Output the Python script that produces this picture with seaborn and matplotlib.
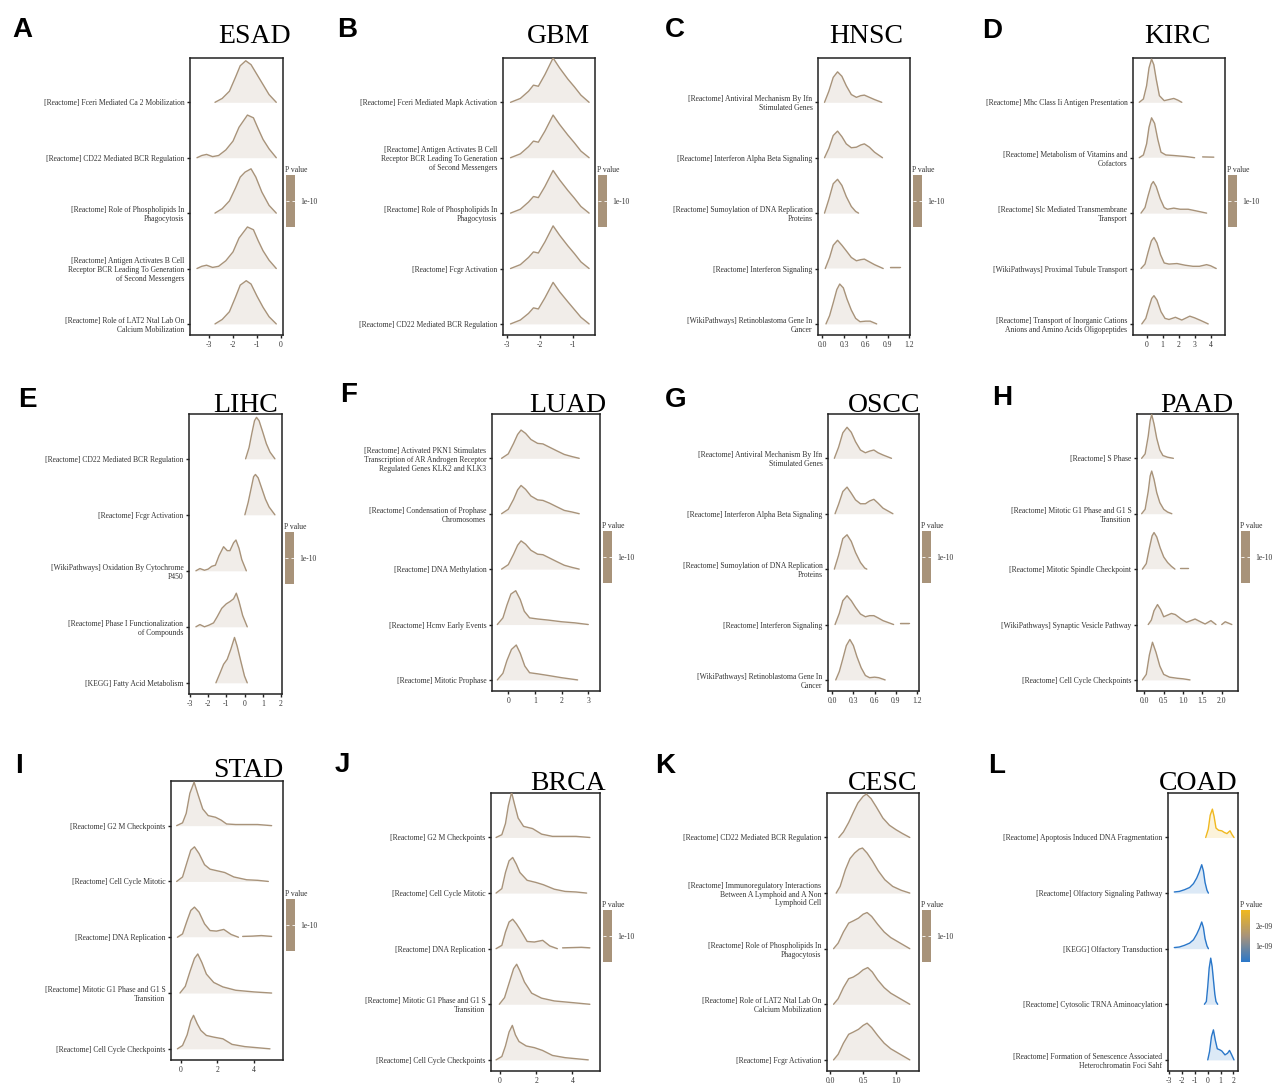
import numpy as np
import matplotlib
matplotlib.use("Agg")
import matplotlib.pyplot as plt
import seaborn as sns
from matplotlib.colors import LinearSegmentedColormap, Normalize
from matplotlib.cm import ScalarMappable

nan = float("nan")

# ---------------- data ----------------
# heights are in units of the ridge spacing, ridges listed top -> bottom

# A  ESAD
esad_terms = ["[Reactome] Fceri Mediated Ca 2 Mobilization",
              "[Reactome] CD22 Mediated BCR Regulation",
              "[Reactome] Role of Phospholipids In\nPhagocytosis",
              "[Reactome] Antigen Activates B Cell\nReceptor BCR Leading To Generation\nof Second Messengers",
              "[Reactome] Role of LAT2 Ntal Lab On\nCalcium Mobilization"]
esad_x = [[-2.75, -2.45, -2.15, -1.9, -1.7, -1.47, -1.25, -1.0, -0.75, -0.5, -0.2],
          [-3.5, -3.3, -3.1, -2.85, -2.6, -2.3, -2.0, -1.75, -1.4, -1.15, -0.95, -0.75, -0.5, -0.2],
          [-2.75, -2.45, -2.15, -1.9, -1.7, -1.5, -1.25, -1.05, -0.8, -0.5, -0.2],
          [-3.5, -3.3, -3.1, -2.85, -2.6, -2.3, -2.0, -1.75, -1.4, -1.15, -0.95, -0.75, -0.5, -0.2],
          [-2.75, -2.45, -2.15, -1.9, -1.7, -1.45, -1.25, -1.0, -0.75, -0.5, -0.2]]
esad_h = [[0.0, 0.07, 0.2, 0.45, 0.66, 0.75, 0.68, 0.5, 0.32, 0.14, 0.0],
          [0.0, 0.04, 0.06, 0.02, 0.04, 0.14, 0.3, 0.55, 0.77, 0.72, 0.52, 0.33, 0.16, 0.0],
          [0.0, 0.08, 0.22, 0.45, 0.65, 0.74, 0.8, 0.65, 0.38, 0.14, 0.0],
          [0.0, 0.04, 0.06, 0.02, 0.04, 0.14, 0.3, 0.55, 0.75, 0.7, 0.5, 0.32, 0.15, 0.0],
          [0.0, 0.08, 0.22, 0.48, 0.7, 0.78, 0.72, 0.5, 0.3, 0.13, 0.0]]
esad_p = [1e-10, 1e-10, 1e-10, 1e-10, 1e-10]

# B  GBM
gbm_terms = ["[Reactome] Fceri Mediated Mapk Activation",
             "[Reactome] Antigen Activates B Cell\nReceptor BCR Leading To Generation\nof Second Messengers",
             "[Reactome] Role of Phospholipids In\nPhagocytosis",
             "[Reactome] Fcgr Activation",
             "[Reactome] CD22 Mediated BCR Regulation"]
gbm_x = [[-2.9, -2.6, -2.35, -2.2, -2.05, -1.85, -1.6, -1.4, -1.15, -0.95, -0.75, -0.5],
         [-2.9, -2.6, -2.35, -2.2, -2.05, -1.85, -1.6, -1.4, -1.15, -0.95, -0.75, -0.5],
         [-2.9, -2.6, -2.35, -2.2, -2.05, -1.85, -1.6, -1.4, -1.15, -0.95, -0.75, -0.5],
         [-2.9, -2.6, -2.35, -2.2, -2.05, -1.85, -1.6, -1.4, -1.15, -0.95, -0.75, -0.5],
         [-2.9, -2.6, -2.35, -2.2, -2.05, -1.85, -1.6, -1.4, -1.15, -0.95, -0.75, -0.5]]
gbm_h = [[0.0, 0.07, 0.2, 0.31, 0.29, 0.5, 0.8, 0.62, 0.42, 0.28, 0.13, 0.0],
         [0.0, 0.07, 0.2, 0.3, 0.28, 0.48, 0.77, 0.6, 0.41, 0.27, 0.12, 0.0],
         [0.0, 0.07, 0.2, 0.3, 0.28, 0.48, 0.77, 0.6, 0.41, 0.27, 0.12, 0.0],
         [0.0, 0.07, 0.2, 0.3, 0.28, 0.48, 0.77, 0.6, 0.41, 0.27, 0.12, 0.0],
         [0.0, 0.07, 0.19, 0.29, 0.27, 0.47, 0.75, 0.58, 0.4, 0.26, 0.12, 0.0]]
gbm_p = [1e-10, 1e-10, 1e-10, 1e-10, 1e-10]

# C  HNSC
hnsc_terms = ["[Reactome] Antiviral Mechanism By Ifn\nStimulated Genes",
              "[Reactome] Interferon Alpha Beta Signaling",
              "[Reactome] Sumoylation of DNA Replication\nProteins",
              "[Reactome] Interferon Signaling",
              "[WikiPathways] Retinoblastoma Gene In\nCancer"]
hnsc_x = [[0.03, 0.09, 0.15, 0.21, 0.27, 0.33, 0.4, 0.47, 0.53, 0.58, 0.65, 0.72, 0.82],
          [0.03, 0.09, 0.15, 0.21, 0.27, 0.33, 0.4, 0.47, 0.53, 0.58, 0.65, 0.72, 0.83],
          [0.03, 0.09, 0.15, 0.21, 0.27, 0.33, 0.4, 0.46, 0.5],
          [0.04, 0.1, 0.15, 0.21, 0.27, 0.33, 0.4, 0.47, 0.53, 0.58, 0.65, 0.72, 0.84, nan, 0.94, 1.07],
          [0.05, 0.1, 0.15, 0.2, 0.24, 0.29, 0.34, 0.4, 0.46, 0.52, 0.6, 0.66, 0.75]]
hnsc_h = [[0.0, 0.2, 0.45, 0.55, 0.47, 0.3, 0.14, 0.09, 0.12, 0.13, 0.09, 0.05, 0.0],
          [0.0, 0.17, 0.4, 0.48, 0.38, 0.25, 0.18, 0.19, 0.23, 0.25, 0.19, 0.1, 0.0],
          [0.0, 0.25, 0.53, 0.61, 0.5, 0.3, 0.12, 0.03, 0.0],
          [0.0, 0.2, 0.42, 0.51, 0.42, 0.32, 0.2, 0.14, 0.16, 0.17, 0.12, 0.07, 0.0, nan, 0.02, 0.02],
          [0.0, 0.15, 0.38, 0.62, 0.72, 0.65, 0.45, 0.25, 0.1, 0.04, 0.05, 0.05, 0.0]]
hnsc_p = [1e-10, 1e-10, 1e-10, 1e-10, 1e-10]

# D  KIRC
kirc_terms = ["[Reactome] Mhc Class Ii Antigen Presentation",
              "[Reactome] Metabolism of Vitamins and\nCofactors",
              "[Reactome] Slc Mediated Transmembrane\nTransport",
              "[WikiPathways] Proximal Tubule Transport",
              "[Reactome] Transport of Inorganic Cations\nAnions and Amino Acids Oligopeptides"]
kirc_x = [[-0.46, -0.2, 0.0, 0.15, 0.31, 0.45, 0.6, 0.8, 1.1, 1.4, 1.7, 1.95, 2.2],
          [-0.46, -0.2, 0.0, 0.15, 0.31, 0.5, 0.7, 0.9, 1.2, 1.7, 2.5, 3.0, nan, 3.5, 4.2],
          [-0.35, -0.1, 0.1, 0.3, 0.42, 0.6, 0.85, 1.1, 1.3, 1.7, 2.1, 2.6, 3.1, 3.75],
          [-0.35, -0.1, 0.1, 0.3, 0.46, 0.65, 0.87, 1.1, 1.4, 1.9, 2.4, 2.9, 3.3, 3.75, 4.0, 4.35],
          [-0.3, -0.05, 0.15, 0.32, 0.46, 0.65, 0.9, 1.15, 1.4, 1.8, 2.2, 2.7, 3.0, 3.4, 3.85]]
kirc_h = [[0.0, 0.06, 0.3, 0.62, 0.78, 0.68, 0.42, 0.12, 0.03, 0.05, 0.07, 0.04, 0.0],
          [0.0, 0.05, 0.25, 0.55, 0.72, 0.62, 0.33, 0.1, 0.05, 0.04, 0.02, 0.0, nan, 0.015, 0.01],
          [0.0, 0.1, 0.32, 0.52, 0.57, 0.48, 0.26, 0.1, 0.07, 0.09, 0.07, 0.07, 0.04, 0.0],
          [0.0, 0.08, 0.3, 0.5, 0.56, 0.46, 0.25, 0.1, 0.08, 0.09, 0.06, 0.04, 0.04, 0.07, 0.05, 0.0],
          [0.0, 0.1, 0.3, 0.46, 0.51, 0.43, 0.22, 0.1, 0.08, 0.12, 0.07, 0.14, 0.11, 0.06, 0.0]]
kirc_p = [1e-10, 1e-10, 1e-10, 1e-10, 1e-10]

# E  LIHC
lihc_terms = ["[Reactome] CD22 Mediated BCR Regulation",
              "[Reactome] Fcgr Activation",
              "[WikiPathways] Oxidation By Cytochrome\nP450",
              "[Reactome] Phase I Functionalization\nof Compounds",
              "[KEGG] Fatty Acid Metabolism"]
lihc_x = [[0.06, 0.25, 0.4, 0.55, 0.66, 0.8, 1.0, 1.2, 1.4, 1.67],
          [0.02, 0.2, 0.35, 0.5, 0.6, 0.75, 0.95, 1.15, 1.35, 1.67],
          [-2.67, -2.45, -2.2, -2.0, -1.8, -1.6, -1.4, -1.15, -0.95, -0.8, -0.6, -0.47, -0.3, -0.15, 0.1],
          [-2.67, -2.45, -2.2, -1.95, -1.7, -1.5, -1.25, -1.0, -0.8, -0.6, -0.45, -0.3, -0.1, 0.15],
          [-1.57, -1.35, -1.15, -0.95, -0.75, -0.55, -0.4, -0.2, 0.0, 0.15]]
lihc_h = [[0.0, 0.2, 0.45, 0.68, 0.74, 0.68, 0.48, 0.27, 0.12, 0.0],
          [0.0, 0.22, 0.45, 0.68, 0.72, 0.66, 0.47, 0.28, 0.14, 0.0],
          [0.0, 0.04, 0.01, 0.03, 0.08, 0.1, 0.27, 0.43, 0.36, 0.36, 0.5, 0.55, 0.4, 0.2, 0.0],
          [0.0, 0.04, 0.0, 0.03, 0.07, 0.18, 0.33, 0.41, 0.45, 0.5, 0.6, 0.45, 0.2, 0.0],
          [0.0, 0.17, 0.33, 0.42, 0.6, 0.81, 0.65, 0.38, 0.12, 0.0]]
lihc_p = [1e-10, 1e-10, 1e-10, 1e-10, 1e-10]

# F  LUAD
luad_terms = ["[Reactome] Activated PKN1 Stimulates\nTranscription of AR Androgen Receptor\nRegulated Genes KLK2 and KLK3",
              "[Reactome] Condensation of Prophase\nChromosomes",
              "[Reactome] DNA Methylation",
              "[Reactome] Hcmv Early Events",
              "[Reactome] Mitotic Prophase"]
luad_x = [[-0.25, 0.0, 0.2, 0.35, 0.48, 0.65, 0.85, 1.1, 1.3, 1.55, 1.8, 2.1, 2.4, 2.66],
          [-0.25, 0.0, 0.2, 0.35, 0.48, 0.65, 0.85, 1.1, 1.3, 1.55, 1.8, 2.1, 2.4, 2.66],
          [-0.25, 0.0, 0.2, 0.35, 0.48, 0.65, 0.85, 1.1, 1.3, 1.55, 1.8, 2.1, 2.4, 2.66],
          [-0.41, -0.2, -0.05, 0.1, 0.28, 0.45, 0.6, 0.8, 1.1, 1.5, 2.0, 2.5, 3.0],
          [-0.41, -0.2, -0.05, 0.12, 0.3, 0.45, 0.62, 0.8, 1.1, 1.5, 2.0, 2.3, 2.6]]
luad_h = [[0.0, 0.08, 0.27, 0.43, 0.51, 0.45, 0.34, 0.27, 0.26, 0.2, 0.14, 0.07, 0.03, 0.0],
          [0.0, 0.08, 0.26, 0.43, 0.51, 0.44, 0.32, 0.25, 0.24, 0.19, 0.13, 0.06, 0.03, 0.0],
          [0.0, 0.08, 0.27, 0.43, 0.51, 0.45, 0.34, 0.27, 0.26, 0.2, 0.14, 0.07, 0.03, 0.0],
          [0.0, 0.12, 0.35, 0.55, 0.61, 0.45, 0.24, 0.12, 0.1, 0.08, 0.05, 0.03, 0.0],
          [0.0, 0.12, 0.35, 0.55, 0.63, 0.48, 0.25, 0.13, 0.11, 0.08, 0.04, 0.02, 0.0]]
luad_p = [1e-10, 1e-10, 1e-10, 1e-10, 1e-10]

# G  OSCC
oscc_terms = ["[Reactome] Antiviral Mechanism By Ifn\nStimulated Genes",
              "[Reactome] Interferon Alpha Beta Signaling",
              "[Reactome] Sumoylation of DNA Replication\nProteins",
              "[Reactome] Interferon Signaling",
              "[WikiPathways] Retinoblastoma Gene In\nCancer"]
oscc_x = [[0.03, 0.09, 0.15, 0.21, 0.27, 0.33, 0.4, 0.47, 0.53, 0.59, 0.65, 0.72, 0.84],
          [0.04, 0.09, 0.15, 0.21, 0.27, 0.33, 0.4, 0.47, 0.53, 0.59, 0.65, 0.72, 0.86],
          [0.03, 0.09, 0.15, 0.21, 0.27, 0.33, 0.4, 0.46, 0.49],
          [0.04, 0.1, 0.15, 0.21, 0.27, 0.33, 0.4, 0.47, 0.53, 0.59, 0.65, 0.72, 0.87, nan, 0.96, 1.09],
          [0.05, 0.1, 0.15, 0.2, 0.25, 0.3, 0.35, 0.41, 0.47, 0.53, 0.6, 0.66, 0.75]]
oscc_h = [[0.0, 0.2, 0.46, 0.56, 0.47, 0.3, 0.15, 0.1, 0.13, 0.15, 0.1, 0.06, 0.0],
          [0.0, 0.17, 0.4, 0.48, 0.37, 0.25, 0.18, 0.18, 0.23, 0.26, 0.19, 0.1, 0.0],
          [0.0, 0.25, 0.55, 0.62, 0.5, 0.3, 0.12, 0.02, 0.0],
          [0.0, 0.2, 0.43, 0.52, 0.43, 0.31, 0.19, 0.14, 0.16, 0.16, 0.12, 0.07, 0.0, nan, 0.02, 0.02],
          [0.0, 0.15, 0.38, 0.62, 0.73, 0.62, 0.42, 0.22, 0.08, 0.04, 0.05, 0.04, 0.0]]
oscc_p = [1e-10, 1e-10, 1e-10, 1e-10, 1e-10]

# H  PAAD
paad_terms = ["[Reactome] S Phase",
              "[Reactome] Mitotic G1 Phase and G1 S\nTransition",
              "[Reactome] Mitotic Spindle Checkpoint",
              "[WikiPathways] Synaptic Vesicle Pathway",
              "[Reactome] Cell Cycle Checkpoints"]
paad_x = [[-0.07, 0.02, 0.1, 0.15, 0.19, 0.25, 0.32, 0.4, 0.48, 0.6, 0.75],
          [-0.07, 0.02, 0.1, 0.15, 0.19, 0.25, 0.32, 0.4, 0.5, 0.6, 0.71],
          [-0.05, 0.05, 0.13, 0.2, 0.25, 0.32, 0.41, 0.5, 0.6, 0.7, 0.79, nan, 0.92, 1.14],
          [0.1, 0.18, 0.25, 0.34, 0.42, 0.5, 0.6, 0.7, 0.8, 0.95, 1.09, 1.2, 1.31, 1.45, 1.57, 1.72, 1.85, nan, 2.0, 2.09, 2.26],
          [-0.05, 0.05, 0.13, 0.21, 0.3, 0.4, 0.5, 0.65, 0.85, 1.0, 1.18]]
paad_h = [[0.0, 0.08, 0.4, 0.68, 0.79, 0.62, 0.36, 0.15, 0.05, 0.02, 0.0],
          [0.0, 0.08, 0.4, 0.68, 0.77, 0.62, 0.38, 0.2, 0.08, 0.03, 0.0],
          [0.0, 0.1, 0.38, 0.6, 0.66, 0.58, 0.38, 0.22, 0.12, 0.05, 0.0, nan, 0.02, 0.02],
          [0.0, 0.08, 0.25, 0.36, 0.27, 0.14, 0.17, 0.2, 0.18, 0.1, 0.04, 0.07, 0.1, 0.05, 0.01, 0.07, 0.0, nan, 0.0, 0.05, 0.0],
          [0.0, 0.1, 0.45, 0.68, 0.5, 0.25, 0.1, 0.05, 0.03, 0.02, 0.0]]
paad_p = [1e-10, 1e-10, 1e-10, 1e-10, 1e-10]

# I  STAD
stad_terms = ["[Reactome] G2 M Checkpoints",
              "[Reactome] Cell Cycle Mitotic",
              "[Reactome] DNA Replication",
              "[Reactome] Mitotic G1 Phase and G1 S\nTransition",
              "[Reactome] Cell Cycle Checkpoints"]
stad_x = [[-0.22, 0.1, 0.3, 0.5, 0.73, 0.95, 1.2, 1.5, 1.9, 2.2, 2.5, 3.0, 3.6, 4.2, 4.96],
          [-0.22, 0.1, 0.35, 0.55, 0.75, 1.0, 1.3, 1.6, 2.0, 2.4, 2.9, 3.6, 4.2, 4.78],
          [-0.18, 0.1, 0.35, 0.55, 0.75, 1.0, 1.3, 1.6, 1.95, 2.35, 2.75, 3.15, nan, 3.38, 3.9, 4.4, 4.96],
          [-0.04, 0.25, 0.5, 0.75, 0.93, 1.15, 1.4, 1.8, 2.3, 3.0, 4.0, 4.96],
          [-0.18, 0.1, 0.35, 0.55, 0.7, 0.9, 1.1, 1.4, 1.8, 2.3, 2.8, 3.5, 4.87]]
stad_h = [[0.0, 0.05, 0.22, 0.58, 0.78, 0.55, 0.3, 0.18, 0.15, 0.1, 0.03, 0.02, 0.02, 0.02, 0.0],
          [0.0, 0.08, 0.35, 0.56, 0.62, 0.5, 0.3, 0.22, 0.19, 0.16, 0.08, 0.03, 0.02, 0.0],
          [0.0, 0.06, 0.3, 0.48, 0.54, 0.45, 0.24, 0.12, 0.11, 0.14, 0.05, 0.0, nan, 0.015, 0.02, 0.03, 0.015],
          [0.0, 0.12, 0.38, 0.62, 0.7, 0.55, 0.34, 0.19, 0.11, 0.05, 0.02, 0.0],
          [0.0, 0.06, 0.25, 0.5, 0.6, 0.45, 0.33, 0.24, 0.21, 0.18, 0.08, 0.04, 0.0]]
stad_p = [1e-10, 1e-10, 1e-10, 1e-10, 1e-10]

# J  BRCA
brca_terms = ["[Reactome] G2 M Checkpoints",
              "[Reactome] Cell Cycle Mitotic",
              "[Reactome] DNA Replication",
              "[Reactome] Mitotic G1 Phase and G1 S\nTransition",
              "[Reactome] Cell Cycle Checkpoints"]
brca_x = [[-0.22, 0.1, 0.3, 0.46, 0.64, 0.8, 1.0, 1.3, 1.8, 2.3, 2.9, 3.5, 4.2, 4.97],
          [-0.22, 0.1, 0.3, 0.5, 0.7, 0.9, 1.1, 1.5, 2.0, 2.4, 3.0, 3.6, 4.2, 4.79],
          [-0.22, 0.1, 0.3, 0.5, 0.7, 0.9, 1.1, 1.5, 1.9, 2.36, 2.75, 3.17, nan, 3.46, 4.0, 4.5, 4.97],
          [-0.04, 0.25, 0.5, 0.75, 0.92, 1.1, 1.35, 1.75, 2.3, 3.0, 4.0, 4.97],
          [-0.22, 0.1, 0.3, 0.5, 0.68, 0.85, 1.05, 1.45, 1.9, 2.35, 2.9, 3.6, 4.88]]
brca_h = [[0.0, 0.05, 0.25, 0.57, 0.81, 0.6, 0.35, 0.2, 0.16, 0.06, 0.02, 0.02, 0.02, 0.0],
          [0.0, 0.08, 0.37, 0.58, 0.64, 0.52, 0.37, 0.23, 0.19, 0.15, 0.07, 0.03, 0.02, 0.0],
          [0.0, 0.06, 0.3, 0.48, 0.53, 0.45, 0.35, 0.13, 0.12, 0.15, 0.05, 0.0, nan, 0.015, 0.02, 0.025, 0.015],
          [0.0, 0.12, 0.38, 0.64, 0.72, 0.6, 0.4, 0.2, 0.11, 0.06, 0.03, 0.0],
          [0.0, 0.06, 0.25, 0.5, 0.62, 0.45, 0.33, 0.25, 0.22, 0.17, 0.08, 0.04, 0.0]]
brca_p = [1e-10, 1e-10, 1e-10, 1e-10, 1e-10]

# K  CESC
cesc_terms = ["[Reactome] CD22 Mediated BCR Regulation",
              "[Reactome] Immunoregulatory Interactions\nBetween A Lymphoid and A Non\nLymphoid Cell",
              "[Reactome] Role of Phospholipids In\nPhagocytosis",
              "[Reactome] Role of LAT2 Ntal Lab On\nCalcium Mobilization",
              "[Reactome] Fcgr Activation"]
cesc_x = [[0.13, 0.2, 0.28, 0.35, 0.42, 0.5, 0.55, 0.62, 0.7, 0.8, 0.9, 1.0, 1.1, 1.21],
          [0.09, 0.15, 0.23, 0.3, 0.37, 0.44, 0.49, 0.56, 0.64, 0.73, 0.83, 0.95, 1.08, 1.21],
          [0.05, 0.12, 0.2, 0.28, 0.35, 0.43, 0.5, 0.56, 0.63, 0.72, 0.82, 0.92, 1.05, 1.21],
          [0.05, 0.12, 0.2, 0.28, 0.35, 0.43, 0.5, 0.57, 0.64, 0.72, 0.82, 0.92, 1.05, 1.21],
          [0.05, 0.12, 0.2, 0.28, 0.35, 0.43, 0.5, 0.56, 0.63, 0.72, 0.82, 0.92, 1.05, 1.21]]
cesc_h = [[0.0, 0.1, 0.27, 0.45, 0.62, 0.74, 0.78, 0.7, 0.55, 0.35, 0.22, 0.14, 0.07, 0.0],
          [0.0, 0.12, 0.42, 0.62, 0.72, 0.79, 0.81, 0.72, 0.58, 0.4, 0.24, 0.12, 0.05, 0.0],
          [0.0, 0.1, 0.3, 0.46, 0.5, 0.55, 0.62, 0.65, 0.58, 0.44, 0.3, 0.2, 0.11, 0.0],
          [0.0, 0.1, 0.3, 0.46, 0.49, 0.55, 0.62, 0.66, 0.58, 0.44, 0.3, 0.2, 0.11, 0.0],
          [0.0, 0.1, 0.3, 0.46, 0.5, 0.55, 0.62, 0.66, 0.58, 0.44, 0.3, 0.2, 0.11, 0.0]]
cesc_p = [1e-10, 1e-10, 1e-10, 1e-10, 1e-10]

# L  COAD
coad_terms = ["[Reactome] Apoptosis Induced DNA Fragmentation",
              "[Reactome] Olfactory Signaling Pathway",
              "[KEGG] Olfactory Transduction",
              "[Reactome] Cytosolic TRNA Aminoacylation",
              "[Reactome] Formation of Senescence Associated\nHeterochromatin Foci Sahf"]
coad_x = [[-0.15, 0.05, 0.2, 0.37, 0.5, 0.65, 0.85, 1.1, 1.3, 1.5, 1.74, 1.9, 2.05],
          [-2.59, -2.2, -1.8, -1.4, -1.1, -0.85, -0.65, -0.46, -0.33, -0.2, -0.05, 0.06],
          [-2.59, -2.2, -1.8, -1.4, -1.1, -0.85, -0.65, -0.46, -0.33, -0.2, -0.05, 0.06],
          [-0.25, -0.1, 0.01, 0.12, 0.24, 0.35, 0.45, 0.56, 0.65, 0.78],
          [0.01, 0.15, 0.3, 0.45, 0.6, 0.75, 0.95, 1.1, 1.35, 1.55, 1.7, 1.85, 2.05]]
coad_h = [[0.0, 0.15, 0.4, 0.51, 0.38, 0.17, 0.13, 0.12, 0.09, 0.07, 0.12, 0.05, 0.0],
          [0.02, 0.03, 0.06, 0.1, 0.17, 0.27, 0.38, 0.51, 0.4, 0.19, 0.05, 0.0],
          [0.02, 0.03, 0.06, 0.1, 0.16, 0.26, 0.36, 0.48, 0.38, 0.18, 0.05, 0.0],
          [0.0, 0.05, 0.32, 0.65, 0.83, 0.68, 0.44, 0.18, 0.05, 0.0],
          [0.0, 0.15, 0.42, 0.54, 0.35, 0.2, 0.18, 0.16, 0.09, 0.12, 0.17, 0.1, 0.0]]
coad_p = [2.8e-09, 2e-10, 2e-10, 2e-10, 2e-10]

# ---------------- layout (pixels in a 1278x1085 canvas) ----------------
W, H = 1278, 1085
# letter, title, data, box(x0,y0,x1,y1), xlim, xticks, tick format, title (x, baseline), letter (x, baseline)
panels = [
    ("A", "ESAD", esad_terms, esad_x, esad_h, esad_p, (190, 58, 283, 335), (-3.79, 0.08), [-3, -2, -1, 0], "{:.0f}", (255, 43), (12, 37)),
    ("B", "GBM", gbm_terms, gbm_x, gbm_h, gbm_p, (503, 58, 595, 335), (-3.13, -0.32), [-3, -2, -1], "{:.0f}", (558, 43), (337, 37)),
    ("C", "HNSC", hnsc_terms, hnsc_x, hnsc_h, hnsc_p, (818, 58, 910, 335), (-0.06, 1.21), [0, 0.3, 0.6, 0.9, 1.2], "{:.1f}", (866, 43), (665, 37)),
    ("D", "KIRC", kirc_terms, kirc_x, kirc_h, kirc_p, (1133, 58, 1225, 335), (-0.85, 4.9), [0, 1, 2, 3, 4], "{:.0f}", (1177, 43), (982, 38)),
    ("E", "LIHC", lihc_terms, lihc_x, lihc_h, lihc_p, (189, 414, 282, 694), (-3.05, 2.06), [-3, -2, -1, 0, 1, 2], "{:.0f}", (246, 412), (18, 407)),
    ("F", "LUAD", luad_terms, luad_x, luad_h, luad_p, (492, 414, 600, 691), (-0.61, 3.44), [0, 1, 2, 3], "{:.0f}", (568, 412), (340, 402)),
    ("G", "OSCC", oscc_terms, oscc_x, oscc_h, oscc_p, (828, 414, 919, 691), (-0.06, 1.23), [0, 0.3, 0.6, 0.9, 1.2], "{:.1f}", (884, 412), (665, 407)),
    ("H", "PAAD", paad_terms, paad_x, paad_h, paad_p, (1137, 414, 1238, 691), (-0.19, 2.42), [0, 0.5, 1.0, 1.5, 2.0], "{:.1f}", (1197, 412), (992, 405)),
    ("I", "STAD", stad_terms, stad_x, stad_h, stad_p, (171, 781, 283, 1060), (-0.53, 5.58), [0, 2, 4], "{:.0f}", (248, 777), (15, 773)),
    ("J", "BRCA", brca_terms, brca_x, brca_h, brca_p, (491, 793, 600, 1071), (-0.5, 5.53), [0, 2, 4], "{:.0f}", (568, 790), (335, 772)),
    ("K", "CESC", cesc_terms, cesc_x, cesc_h, cesc_p, (827, 793, 919, 1071), (-0.05, 1.35), [0, 0.5, 1.0], "{:.1f}", (883, 790), (655, 773)),
    ("L", "COAD", coad_terms, coad_x, coad_h, coad_p, (1168, 793, 1238, 1071), (-3.08, 2.36), [-3, -2, -1, 0, 1, 2], "{:.0f}", (1198, 790), (988, 773)),
]

sns.set_theme(style="white")
plt.rcParams['font.family'] = ['Liberation Serif', 'DejaVu Serif']
plt.rcParams['axes.unicode_minus'] = False

# P value gradient: low blue, high gold, mid tan (used when all values equal)
pcmap = LinearSegmentedColormap.from_list("pval", ["#2a77c9", "#a8937a", "#f0b81e"])

text_col = "#333333"
small = 5.5


def rect(x0, y0, x1, y1):
    return [x0 / W, 1 - y1 / H, (x1 - x0) / W, (y1 - y0) / H]


fig = plt.figure(figsize=(W / 100, H / 100), dpi=100)

for (letter, title, terms, xs, hs, pv, box, xlim, xt, fmt, tpos, lpos) in panels:
    x0, y0, x1, y1 = box
    ax = fig.add_axes(rect(x0, y0, x1, y1))
    n = len(terms)
    if max(pv) > min(pv):
        norm = Normalize(vmin=min(pv), vmax=max(pv))
        cols = [pcmap(norm(p)) for p in pv]
    else:
        norm = None
        cols = [pcmap(0.5) for p in pv]

    for k in range(n):
        base = n - k
        x = np.array(xs[k], dtype=float)
        y = base + np.array(hs[k], dtype=float)
        ax.fill_between(x, base, y, color=cols[k], alpha=0.16, lw=0, zorder=2 + 2 * k)
        # outline, broken where the density is not drawn
        ok = ~np.isnan(x)
        idx = np.flatnonzero(ok)
        splits = np.split(idx, np.flatnonzero(np.diff(idx) > 1) + 1)
        for seg in splits:
            sns.lineplot(x=x[seg], y=y[seg], ax=ax, color=cols[k], lw=1.0,
                         sort=False, estimator=None, zorder=3 + 2 * k)

    ax.set_xlim(xlim)
    ax.set_ylim(0.8, n + 0.8)
    ax.set_yticks(list(range(n, 0, -1)))
    ax.set_yticklabels(terms, fontsize=small, color=text_col, linespacing=1.15)
    ax.set_xticks(xt)
    ax.set_xticklabels([fmt.format(t) for t in xt], fontsize=small, color=text_col)
    ax.set_xlabel("")
    ax.set_ylabel("")
    for s in ax.spines.values():
        s.set_color("#222222")
        s.set_linewidth(1.1)
    ax.tick_params(axis="both", which="major", length=2.5, width=1.0, color="#222222",
                   pad=1.5, left=True, bottom=True)
    ax.grid(False)

    # colour bar
    cy = (y0 + y1) / 2 + 4
    cb_box = (x1 + 3, cy - 26, x1 + 12, cy + 26)
    cax = fig.add_axes(rect(*cb_box))
    if norm is None:
        cax.set_facecolor(cols[0])
        cax.set_xticks([])
        cax.set_ylim(0, 1)
        cax.set_yticks([0.5])
        cax.set_yticklabels(["{:.0e}".format(pv[0])])
        for s in cax.spines.values():
            s.set_visible(False)
    else:
        cb = fig.colorbar(ScalarMappable(norm=norm, cmap=pcmap), cax=cax)
        cb.outline.set_visible(False)
        cbt = [1e-09, 2e-09]
        cb.set_ticks(cbt)
        cb.set_ticklabels(["{:.0e}".format(t) for t in cbt])
    cax.yaxis.set_ticks_position("both")
    cax.tick_params(axis="y", direction="in", color="white", length=2, width=0.6,
                    labelsize=small, labelcolor=text_col, pad=4,
                    left=True, right=True, labelleft=False, labelright=True)
    fig.text((x1 + 2) / W, 1 - (cy - 29) / H, "P value", fontsize=small,
             color=text_col, ha="left", va="baseline")

    # title and panel letter
    fig.text(tpos[0] / W, 1 - tpos[1] / H, title, fontsize=20, color="black",
             ha="center", va="baseline", family=["Liberation Serif", "DejaVu Serif"])
    fig.text(lpos[0] / W, 1 - lpos[1] / H, letter, fontsize=20, fontweight="bold",
             color="black", ha="left", va="baseline",
             family=["Liberation Sans", "DejaVu Sans"])

fig.savefig("out.png", dpi=100, facecolor="white")
